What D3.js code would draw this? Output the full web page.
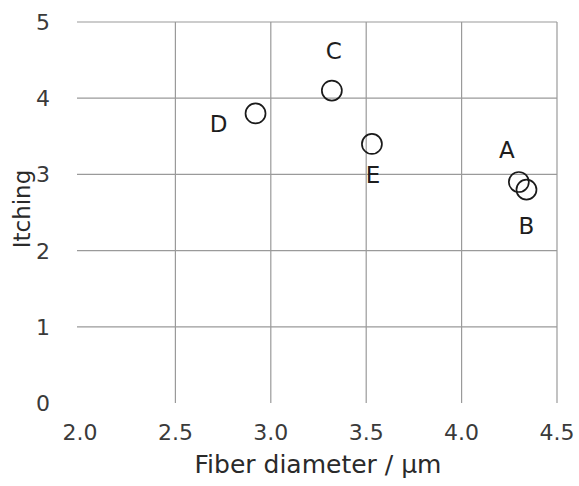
<!DOCTYPE html>
<html lang="en">
<head>
<meta charset="utf-8">
<script src="https://d3js.org/d3.v7.min.js"></script>
<style>
  body { margin: 0; background: #fff; }
  svg { display: block; background: #fff; }
  .grid line { stroke: #9a9a9a; stroke-width: 1.2px; }
  .tick-label { font-family: "DejaVu Sans", sans-serif; font-size: 22px; fill: #3a3a3a; }
  .axis-title { font-family: "DejaVu Sans", sans-serif; font-size: 25px; fill: #2a2a2a; }
  .pt { fill: none; stroke: #1a1a1a; stroke-width: 1.7px; }
  .pt-label { font-family: "DejaVu Sans", sans-serif; font-size: 23px; fill: #1e1e1e; }
</style>
</head>
<body>
<div id="chart"></div>
<script>
  var width = 579, height = 486;

  // samples
  var names = ["A", "B", "C", "D", "E"];
  var diameter = [4.30, 4.34, 3.32, 2.92, 3.53];
  var itching = [2.9, 2.8, 4.1, 3.8, 3.4];

  var xTicks = [2.0, 2.5, 3.0, 3.5, 4.0, 4.5];
  var yTicks = [0, 1, 2, 3, 4, 5];

  // label offsets from the point (px)
  var labelOff = {
    A: [-12, -32], B: [0, 36], C: [2, -40], D: [-37, 10], E: [1, 31]
  };

  var x = d3.scaleLinear().domain([2.0, 4.5]).range([80, 557]);
  var y = d3.scaleLinear().domain([0, 5]).range([403, 22]);

  var svg = d3.select("#chart").append("svg")
    .attr("width", width)
    .attr("height", height);

  var grid = svg.append("g").attr("class", "grid");

  // horizontal grid (no line at 0)
  grid.selectAll(".h")
    .data(yTicks.filter(function(d) { return d > 0; }))
    .enter().append("line")
    .attr("x1", x(2.0) - 3).attr("x2", x(4.5))
    .attr("y1", function(d) { return y(d); })
    .attr("y2", function(d) { return y(d); });

  // vertical grid (none at 2.0)
  grid.selectAll(".v")
    .data(xTicks.filter(function(d) { return d > 2.0; }))
    .enter().append("line")
    .attr("x1", function(d) { return x(d); })
    .attr("x2", function(d) { return x(d); })
    .attr("y1", y(5)).attr("y2", y(0));

  svg.selectAll(".ylab")
    .data(yTicks)
    .enter().append("text")
    .attr("class", "tick-label")
    .attr("x", 50)
    .attr("y", function(d) { return y(d); })
    .attr("dy", "0.36em")
    .attr("text-anchor", "end")
    .text(function(d) { return d; });

  svg.selectAll(".xlab")
    .data(xTicks)
    .enter().append("text")
    .attr("class", "tick-label")
    .attr("x", function(d) { return x(d); })
    .attr("y", 440)
    .attr("text-anchor", "middle")
    .text(d3.format(".1f"));

  svg.append("text")
    .attr("class", "axis-title")
    .attr("x", 318)
    .attr("y", 473)
    .attr("text-anchor", "middle")
    .text("Fiber diameter / µm");

  svg.append("text")
    .attr("class", "axis-title")
    .attr("transform", "translate(30,209) rotate(-90)")
    .attr("text-anchor", "middle")
    .style("font-size", "23px")
    .text("Itching");

  var pts = names.map(function(n, i) {
    return { name: n, x: diameter[i], y: itching[i] };
  });

  svg.selectAll(".pt")
    .data(pts)
    .enter().append("circle")
    .attr("class", "pt")
    .attr("cx", function(d) { return x(d.x); })
    .attr("cy", function(d) { return y(d.y); })
    .attr("r", 10);

  svg.selectAll(".pt-label")
    .data(pts)
    .enter().append("text")
    .attr("class", "pt-label")
    .attr("x", function(d) { return x(d.x) + labelOff[d.name][0]; })
    .attr("y", function(d) { return y(d.y) + labelOff[d.name][1]; })
    .attr("dy", "0.36em")
    .attr("text-anchor", "middle")
    .text(function(d) { return d.name; });
</script>
</body>
</html>
